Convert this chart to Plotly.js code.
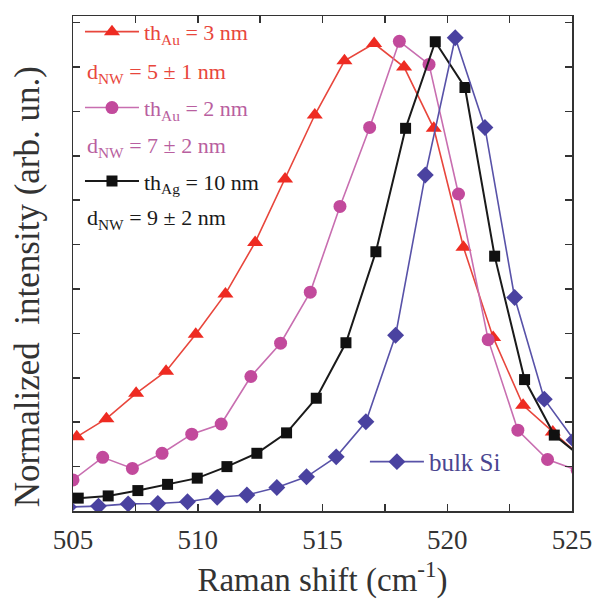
<!DOCTYPE html>
<html>
<head>
<meta charset="utf-8">
<script src="https://cdn.plot.ly/plotly-3.0.1.min.js"></script>
<style>
  html, body { margin: 0; padding: 0; background: #fff; }
  #chart { width: 592px; height: 601px; }
</style>
</head>
<body>
<div id="chart"></div>
<script>
// ---- Data ----
// Raman shift (cm^-1) for each series
const shiftAu3 = [505.15, 506.34, 507.53, 508.73, 509.92, 511.11, 512.30, 513.50, 514.69, 515.88, 517.07, 518.27, 519.46, 520.65, 521.84, 523.04, 524.23, 525.42];
const intAu3   = [0.167, 0.208, 0.265, 0.315, 0.398, 0.489, 0.605, 0.748, 0.892, 1.014, 1.053, 1.000, 0.862, 0.594, 0.391, 0.238, 0.178, 0.119];

const shiftAu2 = [505.00, 506.19, 507.38, 508.57, 509.76, 510.94, 512.13, 513.32, 514.51, 515.70, 516.89, 518.08, 519.27, 520.45, 521.64, 522.83, 524.02, 525.21];
const intAu2   = [0.070, 0.121, 0.096, 0.130, 0.173, 0.196, 0.303, 0.378, 0.493, 0.686, 0.864, 1.058, 1.006, 0.714, 0.386, 0.182, 0.116, 0.092];

const shiftAg10 = [505.21, 506.41, 507.60, 508.79, 509.98, 511.17, 512.37, 513.56, 514.75, 515.94, 517.14, 518.33, 519.52, 520.71, 521.90, 523.10, 524.29, 525.48];
const intAg10   = [0.029, 0.034, 0.046, 0.060, 0.074, 0.100, 0.130, 0.176, 0.254, 0.379, 0.584, 0.862, 1.057, 0.954, 0.574, 0.296, 0.171, 0.117];

const shiftBulk = [504.82, 506.02, 507.21, 508.40, 509.59, 510.78, 511.97, 513.17, 514.36, 515.55, 516.74, 517.93, 519.12, 520.32, 521.51, 522.70, 523.89, 525.08];
const intBulk   = [0.009, 0.011, 0.016, 0.017, 0.021, 0.031, 0.036, 0.053, 0.077, 0.122, 0.201, 0.396, 0.757, 1.066, 0.864, 0.481, 0.252, 0.160];

// Series labels
const seriesNames = [
  'th<sub>Au</sub> = 3 nm',
  'th<sub>Au</sub> = 2 nm',
  'th<sub>Ag</sub> = 10 nm',
  'bulk Si'
];
const diameterLabels = [
  'd<sub>NW</sub> = 5 ± 1 nm',
  'd<sub>NW</sub> = 7 ± 2 nm',
  'd<sub>NW</sub> = 9 ± 2 nm'
];

// Axis ticks and titles
const xTickVals = [505, 510, 515, 520, 525];
const xTickText = ['505', '510', '515', '520', '525'];
const xMinorTickVals = [507.5, 512.5, 517.5, 522.5];
const xTitle = 'Raman shift (cm<sup>-1</sup>)';
const yTitle = 'Normalized\u00A0\u00A0intensity (arb. un.)';

// ---- Styling ----
const SERIF = 'Liberation Serif, Times New Roman, serif';
const cRed = '#ee2b22', cRedLine = '#e8463c';
const cPink = '#c24a9c', cPinkLine = '#c86eb0';
const cBlack = '#111111', cBlackLine = '#1a1a1a';
const cBlue = '#4a42a0', cBlueLine = '#5852a8';
const axisColor = '#333333';

const traces = [
  {
    x: shiftAu3, y: intAu3, name: seriesNames[0], legend: 'legend',
    mode: 'lines+markers', type: 'scatter',
    line: {color: cRedLine, width: 1.6},
    marker: {symbol: 'triangle-up', size: 14, color: cRed, line: {width: 0}}
  },
  {
    x: shiftAu2, y: intAu2, name: seriesNames[1], legend: 'legend2',
    mode: 'lines+markers', type: 'scatter',
    line: {color: cPinkLine, width: 1.6},
    marker: {symbol: 'circle', size: 13, color: cPink, line: {width: 0}}
  },
  {
    x: shiftAg10, y: intAg10, name: seriesNames[2], legend: 'legend3',
    mode: 'lines+markers', type: 'scatter',
    line: {color: cBlackLine, width: 2},
    marker: {symbol: 'square', size: 11, color: cBlack, line: {width: 0}}
  },
  {
    x: shiftBulk, y: intBulk, name: seriesNames[3], legend: 'legend4',
    mode: 'lines+markers', type: 'scatter',
    line: {color: cBlueLine, width: 1.6},
    marker: {symbol: 'diamond', size: 13, color: cBlue, line: {width: 0}}
  }
];

function legendBox(x, y, color, size) {
  return {
    x: x, y: y, xanchor: 'left', yanchor: 'middle',
    xref: 'paper', yref: 'paper',
    bgcolor: 'rgba(0,0,0,0)', borderwidth: 0,
    itemwidth: 54, tracegroupgap: 0,
    font: {family: SERIF, size: size, color: color}
  };
}

const layout = {
  width: 592, height: 601,
  margin: {l: 73, r: 20, t: 15, b: 90, pad: 0},
  paper_bgcolor: '#ffffff', plot_bgcolor: '#ffffff',
  showlegend: true,
  legend: legendBox(0.014, 0.966, cRedLine, 22),
  legend2: legendBox(0.014, 0.813, '#b95fa0', 22),
  legend3: legendBox(0.014, 0.665, '#1a1a1a', 22),
  legend4: legendBox(0.585, 0.099, '#4a4690', 25),
  xaxis: {
    range: [505, 525],
    tickmode: 'array', tickvals: xTickVals, ticktext: xTickText,
    ticks: 'inside', ticklen: 7, tickwidth: 1.5, tickcolor: axisColor,
    minor: {tickmode: 'array', tickvals: xMinorTickVals, ticks: 'inside', ticklen: 7, tickwidth: 1.5, tickcolor: axisColor},
    ticklabeloverflow: 'allow', ticklabelstandoff: 4,
    showline: true, linecolor: axisColor, linewidth: 1.5, mirror: 'ticks',
    showgrid: false, zeroline: false,
    tickfont: {family: SERIF, size: 27, color: axisColor},
    title: {text: xTitle, font: {family: SERIF, size: 33, color: axisColor}, standoff: 14}
  },
  yaxis: {
    range: [0, 1.115],
    tick0: 0, dtick: 0.1,
    ticks: 'inside', ticklen: 7, tickwidth: 1.5, tickcolor: axisColor,
    showticklabels: false,
    showline: true, linecolor: axisColor, linewidth: 1.5, mirror: 'ticks',
    showgrid: false, zeroline: false
  },
  annotations: [
    {text: yTitle, textangle: -90, x: -0.092, y: 0.452, xref: 'paper', yref: 'paper', xanchor: 'center', yanchor: 'middle', showarrow: false, font: {family: SERIF, size: 35, color: axisColor}},
    {text: diameterLabels[0], x: 0.024, y: 0.885, xref: 'paper', yref: 'paper', xanchor: 'left', yanchor: 'middle', showarrow: false, font: {family: SERIF, size: 22, color: cRedLine}},
    {text: diameterLabels[1], x: 0.024, y: 0.736, xref: 'paper', yref: 'paper', xanchor: 'left', yanchor: 'middle', showarrow: false, font: {family: SERIF, size: 22, color: '#b95fa0'}},
    {text: diameterLabels[2], x: 0.024, y: 0.589, xref: 'paper', yref: 'paper', xanchor: 'left', yanchor: 'middle', showarrow: false, font: {family: SERIF, size: 22, color: '#1a1a1a'}}
  ]
};

Plotly.newPlot('chart', traces, layout, {staticPlot: true, displayModeBar: false});
</script>
</body>
</html>
